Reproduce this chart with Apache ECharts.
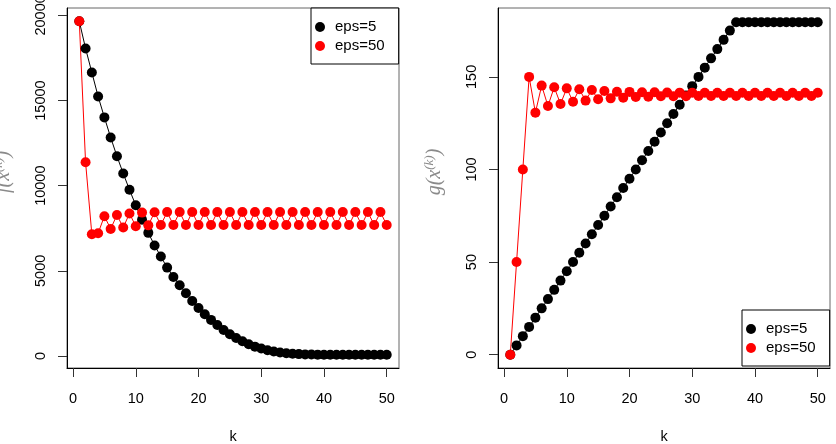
<!DOCTYPE html>
<html>
<head>
<meta charset="utf-8">
<script src="https://cdn.jsdelivr.net/npm/echarts@6/dist/echarts.min.js"></script>
<style>
html,body{margin:0;padding:0;background:#fff;}
#main{width:836px;height:444px;}
</style>
</head>
<body>
<div id="main"></div>
<script>
// 迭代次数
var kVals = [1,2,3,4,5,6,7,8,9,10,11,12,13,14,15,16,17,18,19,20,21,22,23,24,25,26,27,28,29,30,31,32,33,34,35,36,37,38,39,40,41,42,43,44,45,46,47,48,49,50];

// f(x^(k)) 左图
var f_eps5 = [19650,18060,16650,15240,14010,12830,11730,10720,9760,8850,8000,7230,6490,5840,5190,4640,4150,3680,3230,2820,2450,2120,1820,1530,1280,1060,870,690,550,440,340,260,200,160,130,110,95,85,80,78,78,78,78,78,78,78,78,78,78,78];
var f_eps50 = [19650,11380,7150,7210,8210,7460,8280,7540,8370,7620,8420,7670,8440,7690,8450,7690,8450,7690,8450,7690,8450,7690,8450,7690,8450,7690,8450,7690,8450,7690,8450,7690,8450,7690,8450,7690,8450,7690,8450,7690,8450,7690,8450,7690,8450,7690,8450,7690,8450,7690];

// g(x^(k)) 右图
var g_eps5 = [0,5,10,15,20,25,30,35,40,45,50,55,60,65,70,75,80,85,90,95,100,105,110,115,120,125,130,135,140,145,150,155,160,165,170,175,179.5,179.5,179.5,179.5,179.5,179.5,179.5,179.5,179.5,179.5,179.5,179.5,179.5,179.5];
var g_eps50 = [0,50,100,150,130.7,145.3,134.3,144.4,135.4,143.8,136.6,143.3,137.2,142.9,137.9,142.4,138.4,142.0,138.8,141.9,139.2,141.7,139.3,141.7,139.5,141.6,139.6,141.5,139.6,141.5,139.7,141.4,139.7,141.4,139.7,141.4,139.7,141.4,139.7,141.4,139.7,141.4,139.7,141.4,139.7,141.4,139.7,141.4,139.7,141.4];

// 刻度
var xTicks = [0,10,20,30,40,50];
var fTicks = [0,5000,10000,15000,20000];
var gTicks = [0,50,100,150];
var seriesNames = ['eps=5','eps=50'];

function pairs(ys){
	var arr = [];
	for(var i = 0; i < kVals.length; i++){
		arr.push([kVals[i], ys[i]]);
	}
	return arr;
}

var labelFont = 'Liberation Sans, Arial, sans-serif';
var mathFont = 'Liberation Serif, DejaVu Serif, serif';

function plainNum(v){
	return String(v);
}

function xAxisOpt(idx){
	return {
		type:'value',
		gridIndex:idx,
		min:-0.96,
		max:51.96,
		name:'k',
		nameLocation:'middle',
		nameGap:61,
		nameTextStyle:{color:'#000',fontSize:14.5,fontFamily:labelFont},
		splitLine:{show:false},
		axisLine:{show:true,onZero:false,lineStyle:{color:'#000',width:1}},
		axisTick:{show:true,inside:false,length:9,customValues:xTicks,lineStyle:{color:'#333'}},
		axisLabel:{customValues:xTicks,margin:23,color:'#000',fontSize:14.5,fontFamily:labelFont,formatter:plainNum}
	};
}

function yAxisOpt(idx, mn, mx, ticks, letter){
	return {
		type:'value',
		gridIndex:idx,
		min:mn,
		max:mx,
		name:'{m|' + letter + '(x}{s|(k)}{m|)}',
		nameLocation:'middle',
		nameRotate:90,
		nameGap:51,
		nameTextStyle:{
			padding:[0,0,0,32],
			rich:{
				m:{fontFamily:mathFont,fontStyle:'italic',fontSize:20,color:'#8a8a8a',lineHeight:24},
				s:{fontFamily:mathFont,fontStyle:'italic',fontSize:13,color:'#8a8a8a',verticalAlign:'top',lineHeight:24}
			}
		},
		splitLine:{show:false},
		axisLine:{show:true,onZero:false,lineStyle:{color:'#000',width:1}},
		axisTick:{show:true,inside:false,length:9,customValues:ticks,lineStyle:{color:'#333'}},
		axisLabel:{customValues:ticks,rotate:90,margin:19,color:'#000',fontSize:14.5,fontFamily:labelFont,formatter:plainNum}
	};
}

function lineSeries(name, color, xi, ys){
	return {
		name:name,
		type:'line',
		xAxisIndex:xi,
		yAxisIndex:xi,
		data:pairs(ys),
		symbol:'circle',
		symbolSize:10,
		showSymbol:true,
		color:color,
		lineStyle:{color:color,width:1},
		itemStyle:{color:color},
		emphasis:{disabled:true}
	};
}

function legendOpt(left, top){
	return {
		data:seriesNames,
		orient:'vertical',
		left:left,
		top:top,
		padding:[10,14,9,4],
		itemWidth:20,
		itemHeight:10,
		itemGap:1,
		icon:'circle',
		borderColor:'#000',
		borderWidth:1,
		borderRadius:0,
		backgroundColor:'#fff',
		textStyle:{fontSize:15,lineHeight:18,color:'#000',fontFamily:labelFont}
	};
}

var myChart = echarts.init(document.getElementById('main'), null, {renderer:'canvas'});

var option = {
	animation:false,
	backgroundColor:'#fff',
	grid:[
		{left:67,right:437,top:8,bottom:76,show:true,borderColor:'#666',borderWidth:1,containLabel:false,outerBoundsMode:'none'},
		{left:498,right:6,top:8,bottom:76,show:true,borderColor:'#666',borderWidth:1,containLabel:false,outerBoundsMode:'none'}
	],
	xAxis:[xAxisOpt(0), xAxisOpt(1)],
	yAxis:[
		yAxisOpt(0, -705, 20433, fTicks, 'f'),
		yAxisOpt(1, -7.2, 187.2, gTicks, 'g')
	],
	legend:[legendOpt(311, 8), legendOpt(742, 310)],
	series:[
		lineSeries('eps=5', '#000000', 0, f_eps5),
		lineSeries('eps=50', '#ff0000', 0, f_eps50),
		lineSeries('eps=5', '#000000', 1, g_eps5),
		lineSeries('eps=50', '#ff0000', 1, g_eps50)
	]
};

myChart.setOption(option);
</script>
</body>
</html>
